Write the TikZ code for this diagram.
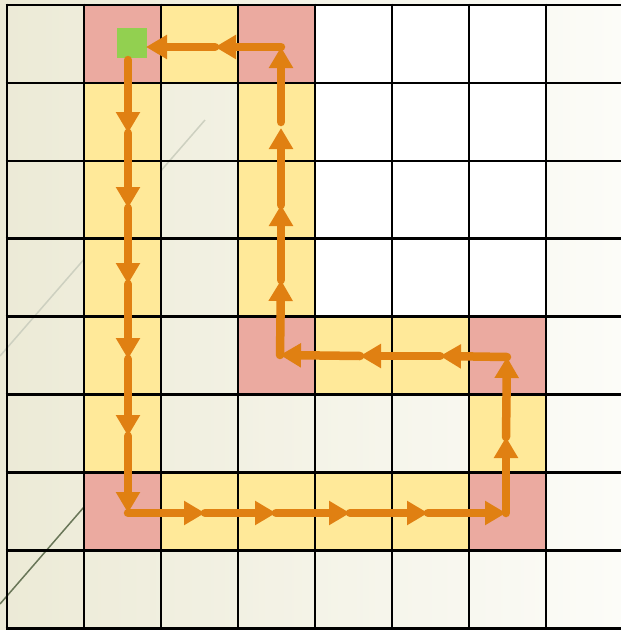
\documentclass[tikz,border=0pt]{standalone}
\usetikzlibrary{arrows.meta}
\definecolor{pinkc}{RGB}{235,170,160}
\definecolor{yelc}{RGB}{255,233,153}
\definecolor{arrc}{RGB}{224,128,18}
\definecolor{grn}{RGB}{146,208,80}
\definecolor{bgl}{RGB}{236,234,214}
\definecolor{bgr}{RGB}{252,252,248}
\definecolor{lline}{RGB}{205,208,192}
\definecolor{dline}{RGB}{105,118,88}
\begin{document}
\begin{tikzpicture}[x=1pt,y=-1pt,
  pinkcell/.style={fill=pinkc},
  yelcell/.style={fill=yelc},
  whitecell/.style={fill=white},
  gridline/.style={black,line width=2.6pt},
  flow/.style={arrc,line width=8.5pt,line cap=round,-{Triangle[width=23pt,length=21pt]}},
  goalbox/.style={fill=grn,minimum size=30pt,inner sep=0pt,draw=none}]
\useasboundingbox (0,0) rectangle (621,630);
\clip (0,0) rectangle (621,630);
% background
\shade[left color=bgl,right color=bgr] (0,0) rectangle (621,630);
\draw[lline,line width=1.5pt] (205,120) -- (0,356);
\draw[dline,line width=1.5pt] (84,507) -- (0,604);
% cells
\foreach \c/\r in {4/0,5/0,6/0,4/1,5/1,6/1,4/2,5/2,6/2,4/3,5/3,6/3}
  \fill[whitecell] ({7+77*\c},{5+77.9*\r}) rectangle ++(77,77.9);
\foreach \c/\r in {1/0,3/0,3/4,6/4,1/6,6/6}
  \fill[pinkcell] ({7+77*\c},{5+77.9*\r}) rectangle ++(77,77.9);
\foreach \c/\r in {2/0,1/1,1/2,1/3,1/4,1/5,3/1,3/2,3/3,4/4,5/4,6/5,2/6,3/6,4/6,5/6}
  \fill[yelcell] ({7+77*\c},{5+77.9*\r}) rectangle ++(77,77.9);
% grid
\foreach \i in {0,...,7}
  \draw[gridline] ({7+77*\i},3.7) -- ({7+77*\i},629.5);
\foreach \i in {0,...,8}
  \draw[gridline] (5.7,{5+77.9*\i}) -- (630,{5+77.9*\i});
% goal
\node[goalbox] (goal) at (132,43) {};
% path points
\coordinate (a0) at (128,60);
\coordinate (a1) at (128,133);
\coordinate (a2) at (128,208);
\coordinate (a3) at (128,284);
\coordinate (a4) at (128,359);
\coordinate (a5) at (128,436);
\coordinate (c1) at (128,513);
\coordinate (b1) at (205,513);
\coordinate (b2) at (276,513);
\coordinate (b3) at (350,513);
\coordinate (b4) at (428,513);
\coordinate (c2) at (506,513);
\coordinate (r1) at (506,437);
\coordinate (c3) at (507,357);
\coordinate (d1) at (440,356);
\coordinate (d2) at (360,356);
\coordinate (c4) at (280,355);
\coordinate (e1) at (281,280);
\coordinate (e2) at (281,205);
\coordinate (e3) at (281,128);
\coordinate (e3s) at (281,122);
\coordinate (c5) at (281,47);
\coordinate (f1) at (215,47);
\coordinate (g) at (146,47);
% arrows
\draw[flow] (a0) -- (a1);
\draw[flow] (a1) -- (a2);
\draw[flow] (a2) -- (a3);
\draw[flow] (a3) -- (a4);
\draw[flow] (a4) -- (a5);
\draw[flow] (a5) -- (c1);
\draw[flow] (c1) -- (b1);
\draw[flow] (b1) -- (b2);
\draw[flow] (b2) -- (b3);
\draw[flow] (b3) -- (b4);
\draw[flow] (b4) -- (c2);
\draw[flow] (c2) -- (r1);
\draw[flow] (r1) -- (c3);
\draw[flow] (c3) -- (d1);
\draw[flow] (d1) -- (d2);
\draw[flow] (d2) -- (c4);
\draw[flow] (c4) -- (e1);
\draw[flow] (e1) -- (e2);
\draw[flow] (e2) -- (e3);
\draw[flow] (e3s) -- (c5);
\draw[flow] (c5) -- (f1);
\draw[flow] (f1) -- (g);
\end{tikzpicture}
\end{document}
